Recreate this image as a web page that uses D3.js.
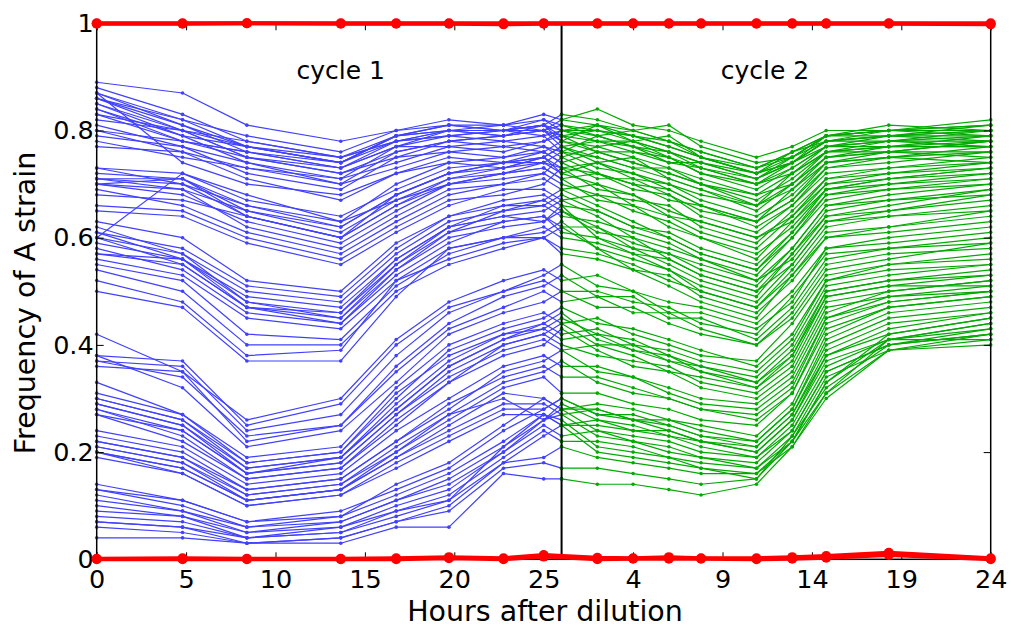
<!DOCTYPE html>
<html>
<head>
<meta charset="utf-8">
<script src="https://cdn.jsdelivr.net/npm/d3@7"></script>
<style>
  body { margin: 0; background: #fff; }
  svg { display: block; }
  text { font-family: "DejaVu Sans", sans-serif; fill: #000; }
</style>
</head>
<body>
<svg id="chart" width="1011" height="627"></svg>
<script>
// Sampling times (hours after dilution). Cycle 2 is re-diluted at hour 26 of the run.
const cycle1Hours = [0, 4.8, 8.4, 13.65, 16.75, 19.7, 22.75, 25, 26];
const cycle2Hours = [0, 2, 4, 6, 7.8, 10.9, 12.9, 14.8, 18.3, 24];
const cycle2Start = 26;
const controlHours = [0, 4.8, 8.4, 13.65, 16.75, 19.7, 22.75, 25, 28, 30, 32, 33.8, 36.9, 38.9, 40.8, 44.3, 50];

// Axis ticks
const cycle1Ticks = [0, 5, 10, 15, 20, 25];
const cycle2Ticks = [4, 9, 14, 19, 24];
const freqTicks = [0, 0.2, 0.4, 0.6, 0.8, 1];

// Frequency of A strain per mixed culture, cycle 1 (one row per culture)
const freqCycle1 = [
  [.89,.87,.81,.78,.80,.82,.81,.83,.82],
  [.87,.82,.79,.76,.80,.81,.80,.82,.80],
  [.87,.81,.77,.74,.79,.80,.80,.81,.83],
  [.86,.80,.78,.75,.78,.80,.79,.80,.79],
  [.86,.81,.76,.73,.77,.79,.80,.81,.78],
  [.85,.79,.77,.74,.79,.80,.81,.80,.81],
  [.85,.80,.75,.72,.76,.78,.79,.80,.77],
  [.84,.78,.76,.73,.78,.79,.78,.79,.80],
  [.84,.79,.74,.71,.77,.80,.80,.81,.79],
  [.83,.78,.76,.74,.79,.81,.80,.79,.76],
  [.82,.80,.75,.72,.75,.78,.77,.78,.80],
  [.81,.77,.74,.70,.76,.78,.79,.80,.78],
  [.80,.78,.75,.73,.77,.77,.78,.77,.75],
  [.80,.76,.73,.71,.74,.77,.76,.78,.79],
  [.79,.77,.72,.69,.75,.76,.77,.76,.74],
  [.78,.75,.73,.70,.73,.76,.75,.77,.76],
  [.87,.74,.70,.68,.72,.74,.73,.75,.77],
  [.77,.76,.71,.67,.72,.75,.74,.74,.72],
  [.88,.83,.78,.75,.79,.81,.81,.82,.81],
  [.86,.82,.77,.75,.78,.79,.80,.80,.82],
  [.83,.80,.77,.74,.78,.80,.79,.81,.80],
  [.73,.72,.67,.64,.69,.73,.74,.76,.78],
  [.73,.70,.66,.62,.68,.72,.73,.75,.73],
  [.72,.71,.65,.61,.67,.71,.72,.74,.76],
  [.71,.70,.64,.60,.66,.70,.72,.73,.71],
  [.71,.71,.66,.63,.70,.74,.75,.76,.74],
  [.71,.69,.65,.62,.68,.72,.74,.75,.77],
  [.70,.71,.64,.60,.66,.71,.73,.74,.73],
  [.70,.68,.63,.59,.65,.70,.71,.72,.75],
  [.70,.69,.62,.58,.64,.69,.70,.71,.69],
  [.69,.66,.61,.57,.63,.68,.70,.72,.70],
  [.68,.67,.64,.60,.68,.72,.74,.75,.72],
  [.66,.65,.60,.56,.62,.67,.68,.70,.73],
  [.65,.64,.59,.55,.61,.66,.69,.69,.67],
  [.60,.72,.68,.63,.67,.70,.72,.73,.71],
  [.63,.60,.52,.50,.59,.64,.67,.68,.66],
  [.62,.57,.50,.48,.57,.63,.65,.67,.69],
  [.61,.58,.51,.49,.58,.64,.66,.66,.64],
  [.61,.56,.49,.47,.56,.62,.64,.65,.67],
  [.60,.57,.48,.46,.55,.61,.63,.64,.62],
  [.60,.55,.47,.46,.56,.62,.66,.67,.65],
  [.59,.56,.48,.45,.54,.60,.62,.63,.65],
  [.58,.54,.46,.44,.53,.59,.63,.64,.61],
  [.57,.55,.47,.45,.55,.62,.64,.63,.66],
  [.57,.56,.47,.44,.54,.61,.65,.66,.68],
  [.56,.53,.45,.43,.52,.58,.60,.62,.60],
  [.55,.52,.42,.41,.51,.57,.60,.61,.63],
  [.54,.50,.40,.40,.50,.55,.58,.60,.58],
  [.52,.48,.38,.39,.52,.56,.59,.60,.62],
  [.50,.47,.37,.37,.49,.58,.60,.60,.57],
  [.42,.35,.26,.30,.41,.48,.52,.54,.52],
  [.38,.37,.25,.29,.40,.47,.50,.53,.55],
  [.37,.36,.24,.27,.38,.46,.50,.52,.50],
  [.37,.34,.23,.25,.36,.44,.49,.51,.53],
  [.36,.35,.22,.25,.35,.43,.47,.50,.48],
  [.38,.32,.21,.24,.33,.42,.46,.48,.50],
  [.33,.27,.19,.21,.32,.40,.44,.46,.44],
  [.31,.27,.18,.20,.30,.39,.43,.45,.47],
  [.30,.26,.18,.20,.31,.38,.42,.44,.42],
  [.30,.26,.17,.19,.29,.37,.42,.43,.45],
  [.29,.25,.17,.19,.28,.36,.41,.43,.41],
  [.29,.25,.16,.18,.27,.35,.40,.42,.44],
  [.28,.24,.16,.18,.27,.34,.39,.41,.39],
  [.28,.23,.15,.17,.26,.33,.40,.42,.40],
  [.27,.24,.16,.19,.28,.36,.41,.44,.46],
  [.27,.22,.15,.17,.25,.33,.38,.40,.43],
  [.24,.21,.14,.16,.24,.30,.36,.38,.36],
  [.23,.20,.13,.15,.22,.28,.35,.37,.39],
  [.22,.19,.13,.15,.22,.29,.34,.36,.34],
  [.22,.19,.12,.14,.21,.27,.33,.35,.37],
  [.21,.18,.12,.14,.20,.26,.32,.34,.31],
  [.21,.18,.11,.13,.19,.25,.31,.30,.28],
  [.20,.17,.11,.13,.19,.24,.29,.29,.27],
  [.20,.16,.10,.12,.18,.23,.28,.28,.30],
  [.19,.16,.10,.12,.17,.22,.27,.27,.25],
  [.20,.17,.11,.13,.20,.27,.30,.26,.29],
  [.14,.11,.07,.08,.14,.18,.25,.30,.28],
  [.13,.11,.07,.09,.13,.17,.24,.28,.30],
  [.13,.10,.06,.08,.12,.16,.22,.27,.25],
  [.12,.09,.06,.07,.11,.15,.21,.26,.28],
  [.11,.09,.05,.07,.11,.14,.20,.25,.23],
  [.10,.08,.05,.06,.10,.13,.20,.26,.27],
  [.09,.08,.04,.06,.09,.12,.19,.24,.22],
  [.08,.07,.04,.05,.09,.11,.21,.27,.26],
  [.07,.06,.04,.05,.08,.11,.18,.23,.25],
  [.07,.06,.03,.04,.07,.10,.18,.19,.21],
  [.06,.05,.03,.04,.07,.09,.17,.18,.17],
  [.04,.04,.03,.03,.06,.06,.16,.15,.15]
];

// Same cultures, cycle 2 (first column is the value at re-dilution)
const freqCycle2 = [
  [.82,.84,.81,.80,.78,.75,.77,.80,.80,.82],
  [.80,.81,.80,.78,.76,.73,.76,.79,.80,.81],
  [.83,.82,.80,.81,.77,.74,.75,.79,.81,.80],
  [.79,.80,.79,.77,.75,.72,.76,.78,.79,.80],
  [.78,.81,.78,.76,.74,.71,.74,.78,.78,.79],
  [.81,.79,.80,.78,.76,.73,.75,.79,.80,.79],
  [.77,.78,.77,.75,.72,.70,.73,.77,.78,.80],
  [.80,.80,.78,.79,.75,.72,.74,.78,.79,.78],
  [.79,.78,.76,.75,.73,.71,.75,.78,.79,.81],
  [.76,.79,.77,.76,.73,.70,.72,.77,.77,.79],
  [.80,.79,.77,.74,.74,.72,.74,.79,.80,.80],
  [.78,.77,.78,.75,.72,.69,.73,.77,.78,.78],
  [.75,.77,.75,.73,.71,.68,.72,.76,.77,.77],
  [.79,.76,.76,.74,.73,.70,.74,.77,.79,.79],
  [.74,.76,.74,.72,.70,.67,.71,.76,.76,.78],
  [.76,.75,.73,.73,.70,.68,.70,.75,.77,.77],
  [.77,.74,.75,.71,.69,.66,.72,.76,.78,.77],
  [.72,.74,.72,.70,.68,.66,.70,.75,.76,.76],
  [.81,.80,.79,.77,.75,.72,.75,.79,.80,.81],
  [.82,.81,.79,.78,.75,.73,.76,.79,.79,.80],
  [.80,.78,.78,.76,.74,.71,.74,.78,.80,.80],
  [.78,.76,.74,.72,.70,.66,.69,.75,.76,.78],
  [.73,.74,.71,.70,.67,.64,.68,.74,.75,.76],
  [.76,.73,.72,.69,.66,.63,.69,.74,.76,.75],
  [.71,.72,.70,.67,.66,.62,.66,.73,.74,.76],
  [.74,.71,.71,.68,.65,.63,.67,.73,.75,.74],
  [.77,.75,.73,.71,.69,.65,.70,.76,.77,.78],
  [.73,.72,.70,.69,.66,.63,.67,.74,.75,.77],
  [.75,.72,.69,.68,.64,.61,.66,.72,.73,.75],
  [.69,.70,.68,.65,.63,.60,.64,.71,.73,.74],
  [.70,.68,.67,.66,.62,.59,.65,.71,.72,.73],
  [.72,.70,.66,.64,.63,.60,.63,.70,.72,.74],
  [.73,.69,.68,.64,.61,.58,.64,.70,.71,.72],
  [.67,.68,.65,.63,.60,.57,.62,.69,.71,.73],
  [.71,.67,.66,.62,.60,.56,.63,.69,.70,.71],
  [.66,.65,.62,.61,.58,.55,.61,.68,.70,.72],
  [.69,.66,.63,.60,.57,.54,.60,.68,.69,.71],
  [.64,.63,.61,.59,.56,.53,.60,.67,.69,.70],
  [.67,.64,.60,.58,.56,.52,.58,.66,.68,.70],
  [.62,.62,.59,.57,.54,.51,.58,.66,.67,.69],
  [.65,.61,.60,.56,.53,.50,.57,.65,.67,.68],
  [.65,.62,.58,.57,.55,.52,.56,.64,.66,.69],
  [.61,.60,.58,.55,.52,.49,.57,.64,.65,.67],
  [.66,.60,.57,.56,.53,.50,.55,.63,.65,.68],
  [.68,.65,.62,.60,.57,.54,.61,.69,.71,.73],
  [.60,.59,.57,.54,.51,.48,.55,.63,.64,.66],
  [.63,.58,.56,.54,.50,.47,.54,.62,.64,.65],
  [.58,.57,.55,.52,.50,.47,.53,.61,.62,.65],
  [.62,.58,.54,.53,.49,.46,.52,.60,.62,.64],
  [.57,.56,.54,.51,.48,.45,.53,.60,.61,.63],
  [.52,.53,.50,.48,.47,.44,.50,.58,.60,.62],
  [.55,.51,.50,.46,.46,.43,.48,.58,.59,.61],
  [.50,.50,.48,.47,.44,.42,.49,.57,.58,.60],
  [.53,.49,.49,.45,.45,.41,.47,.56,.58,.59],
  [.48,.49,.46,.46,.43,.40,.46,.55,.57,.58],
  [.50,.47,.47,.44,.42,.40,.45,.54,.56,.59],
  [.44,.45,.42,.40,.38,.37,.44,.53,.55,.57],
  [.47,.44,.43,.41,.39,.36,.42,.52,.55,.56],
  [.42,.43,.40,.39,.37,.35,.41,.52,.54,.55],
  [.45,.42,.41,.38,.36,.34,.40,.51,.53,.55],
  [.41,.42,.39,.38,.35,.33,.39,.50,.52,.54],
  [.44,.40,.40,.37,.36,.33,.38,.50,.52,.53],
  [.39,.40,.38,.35,.34,.32,.37,.49,.51,.53],
  [.40,.38,.37,.36,.33,.31,.36,.48,.50,.52],
  [.46,.41,.39,.37,.35,.32,.38,.49,.51,.51],
  [.43,.39,.36,.35,.32,.30,.35,.47,.49,.50],
  [.36,.36,.34,.32,.30,.29,.34,.46,.50,.52],
  [.39,.35,.34,.31,.29,.28,.33,.45,.49,.51],
  [.34,.34,.32,.30,.28,.27,.32,.45,.48,.50],
  [.37,.33,.31,.30,.28,.26,.31,.44,.48,.50],
  [.31,.31,.29,.28,.26,.25,.31,.43,.47,.49],
  [.28,.29,.28,.26,.25,.23,.29,.42,.47,.49],
  [.27,.28,.26,.26,.24,.22,.28,.41,.46,.48],
  [.30,.27,.27,.25,.23,.22,.28,.40,.45,.47],
  [.25,.26,.25,.23,.22,.21,.27,.39,.44,.46],
  [.29,.26,.24,.24,.22,.20,.26,.38,.43,.46],
  [.28,.28,.26,.25,.23,.21,.27,.38,.42,.45],
  [.30,.27,.26,.24,.22,.20,.26,.37,.41,.44],
  [.25,.25,.24,.23,.21,.19,.25,.36,.41,.43],
  [.28,.24,.23,.22,.20,.19,.24,.35,.40,.43],
  [.23,.24,.22,.21,.19,.18,.24,.35,.40,.42],
  [.27,.23,.22,.20,.19,.17,.23,.34,.39,.42],
  [.22,.22,.21,.19,.18,.17,.22,.33,.41,.44],
  [.26,.21,.20,.19,.17,.16,.22,.33,.42,.45],
  [.25,.20,.19,.18,.17,.15,.23,.32,.40,.42],
  [.21,.19,.18,.17,.16,.16,.21,.31,.41,.41],
  [.17,.17,.16,.15,.14,.15,.22,.31,.39,.41],
  [.15,.14,.14,.13,.12,.14,.21,.30,.39,.40]
];

// Pure-culture controls (A only and B only)
const controlPureA = [
  [1,1,1,1,1,1,1,1,1,1,1,1,1,1,1,1,1],
  [.999,.999,1,.999,.999,.999,.998,.999,.999,.999,.999,.999,.999,.999,.999,.999,.998]
];
const controlPureB = [
  [0,0,0,0,0,.002,0,.005,0,.001,.001,.001,0,.001,.003,.008,0],
  [.001,.002,.001,.001,.002,.004,.002,.008,.003,.002,.004,.002,.002,.004,.006,.012,.002]
];

const svg = d3.select("#chart");
const x = d3.scaleLinear().domain([0, 50]).range([96.7, 990.7]);
const y = d3.scaleLinear().domain([0, 1]).range([559.3, 23.3]);

const lineGen = d3.line().x(d => x(d[0])).y(d => y(d[1]));

function drawSeries(rows, hours, offset, color, width, r) {
  const g = svg.append("g");
  rows.forEach(row => {
    const pts = row.map((v, i) => [hours[i] + offset, v]);
    g.append("path").attr("d", lineGen(pts))
      .attr("fill", "none").attr("stroke", color).attr("stroke-width", width)
      .attr("stroke-linejoin", "round");
    g.selectAll(null).data(pts).enter().append("circle")
      .attr("cx", d => x(d[0])).attr("cy", d => y(d[1])).attr("r", r)
      .attr("fill", color);
  });
}

drawSeries(freqCycle1, cycle1Hours, 0, "#4040ff", 1.2, 1.8);
drawSeries(freqCycle2, cycle2Hours, cycle2Start, "#00aa00", 1.2, 1.8);

// Re-dilution marker
svg.append("line")
  .attr("x1", x(cycle2Start)).attr("x2", x(cycle2Start))
  .attr("y1", y(0)).attr("y2", y(1))
  .attr("stroke", "#000").attr("stroke-width", 2);

// Frame
svg.append("rect")
  .attr("x", x(0)).attr("y", y(1))
  .attr("width", x(50) - x(0)).attr("height", y(0) - y(1))
  .attr("fill", "none").attr("stroke", "#000").attr("stroke-width", 1.5);

// Axes (ticks point inward)
const xTickVals = cycle1Ticks.concat(cycle2Ticks.map(t => t + cycle2Start));
const xFmt = d => d > cycle2Start ? String(d - cycle2Start) : String(d);

const gx = svg.append("g").attr("transform", `translate(0,${y(0)})`)
  .call(d3.axisBottom(x).tickValues(xTickVals).tickFormat(xFmt).tickSize(-7).tickPadding(11));
const gxt = svg.append("g").attr("transform", `translate(0,${y(1)})`)
  .call(d3.axisTop(x).tickValues(xTickVals).tickFormat("").tickSize(-7));
const gy = svg.append("g").attr("transform", `translate(${x(0)},0)`)
  .call(d3.axisLeft(y).tickValues(freqTicks).tickFormat(d => String(d)).tickSize(-7).tickPadding(3));
const gyr = svg.append("g").attr("transform", `translate(${x(50)},0)`)
  .call(d3.axisRight(y).tickValues(freqTicks).tickFormat("").tickSize(-7));

[gx, gxt, gy, gyr].forEach(g => {
  g.select(".domain").remove();
  g.selectAll(".tick line").attr("stroke", "#000").attr("stroke-width", 1);
  g.selectAll(".tick text").attr("font-size", 25.5).attr("font-family", "DejaVu Sans").attr("fill", "#000");
});

// Controls on top
controlPureA.concat(controlPureB).forEach(row => {
  const pts = row.map((v, i) => [controlHours[i], v]);
  svg.append("path").attr("d", lineGen(pts))
    .attr("fill", "none").attr("stroke", "#ff0000").attr("stroke-width", 4)
    .attr("stroke-linejoin", "round");
  svg.selectAll(null).data(pts).enter().append("circle")
    .attr("cx", d => x(d[0])).attr("cy", d => y(d[1])).attr("r", 5)
    .attr("fill", "#ff0000");
});

// Labels
svg.append("text").attr("x", 340.8).attr("y", 79).attr("text-anchor", "middle")
  .attr("font-size", 25).text("cycle 1");
svg.append("text").attr("x", 765).attr("y", 79).attr("text-anchor", "middle")
  .attr("font-size", 25).text("cycle 2");
svg.append("text").attr("x", 545).attr("y", 621).attr("text-anchor", "middle")
  .attr("font-size", 28.5).text("Hours after dilution");
svg.append("text").attr("transform", "translate(35,303) rotate(-90)").attr("text-anchor", "middle")
  .attr("font-size", 28.5).text("Frequency of A strain");
</script>
</body>
</html>
